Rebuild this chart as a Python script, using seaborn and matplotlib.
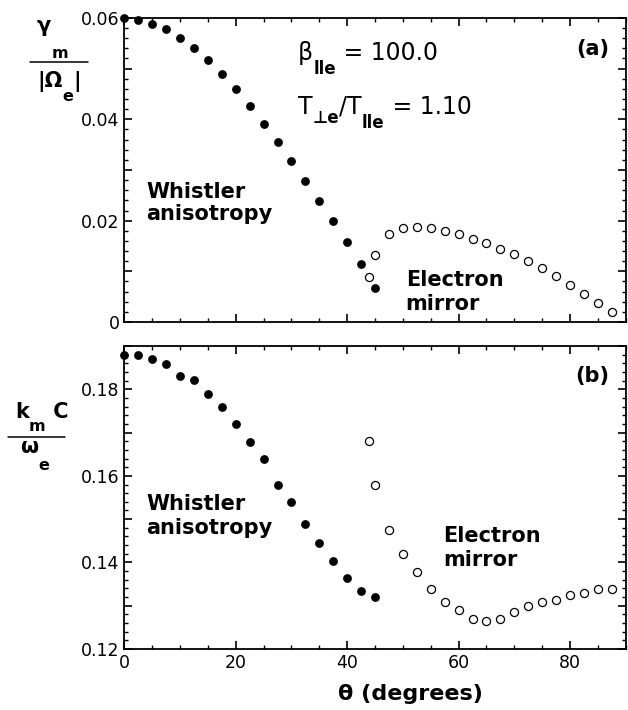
import matplotlib
matplotlib.use('Agg')
import matplotlib.pyplot as plt
from matplotlib.ticker import MultipleLocator, FuncFormatter
import seaborn as sns

# --- data ---
theta_fill = [0, 2.5, 5, 7.5, 10, 12.5, 15, 17.5, 20, 22.5, 25, 27.5, 30, 32.5,
              35, 37.5, 40, 42.5, 45]
theta_open = [44, 45, 47.5, 50, 52.5, 55, 57.5, 60, 62.5, 65, 67.5, 70, 72.5,
              75, 77.5, 80, 82.5, 85, 87.5]

# (a) growth rate gamma_m / |Omega_e|
gamma_fill = [0.0600, 0.0595, 0.0588, 0.0578, 0.0561, 0.0541, 0.0517, 0.0490,
              0.0459, 0.0427, 0.0391, 0.0356, 0.0318, 0.0278, 0.0239, 0.0199,
              0.0157, 0.0114, 0.0067]
gamma_open = [0.0088, 0.0132, 0.0174, 0.0186, 0.0188, 0.0186, 0.0180, 0.0173,
              0.0164, 0.0155, 0.0145, 0.0134, 0.0121, 0.0106, 0.0091, 0.0073,
              0.0056, 0.0037, 0.0019]

# (b) wavenumber k_m c / omega_e
k_fill = [0.1879, 0.1879, 0.1869, 0.1859, 0.1830, 0.1821, 0.1789, 0.1759,
          0.1720, 0.1679, 0.1640, 0.1578, 0.1539, 0.1489, 0.1444, 0.1404,
          0.1364, 0.1334, 0.1319]
k_open = [0.1680, 0.1579, 0.1474, 0.1419, 0.1379, 0.1339, 0.1309, 0.1289,
          0.1269, 0.1265, 0.1269, 0.1285, 0.1299, 0.1309, 0.1314, 0.1324,
          0.1330, 0.1339, 0.1339]

sns.set_theme(style='ticks')
plt.rcParams['font.family'] = ['DejaVu Sans']
plt.rcParams.update({
    'text.color': 'black',
    'axes.labelcolor': 'black',
    'axes.linewidth': 1.3,
    'axes.edgecolor': 'black',
    'xtick.direction': 'in', 'ytick.direction': 'in',
    'xtick.top': True, 'ytick.right': True,
    'xtick.major.size': 5.5, 'ytick.major.size': 5.5,
    'xtick.minor.size': 3, 'ytick.minor.size': 3,
    'xtick.major.width': 1.2, 'ytick.major.width': 1.2,
    'xtick.minor.width': 1.0, 'ytick.minor.width': 1.0,
    'xtick.labelsize': 12.5, 'ytick.labelsize': 12.5,
    'xtick.color': 'black', 'ytick.color': 'black',
})


def chain(ax, x, y, pieces, transform):
    # lay text pieces left to right, each with its own size and baseline shift
    s, size, weight, _ = pieces[0]
    prev = ax.text(x, y, s, fontsize=size, fontweight=weight, transform=transform,
                   ha='left', va='baseline')
    for s, size, weight, dy in pieces[1:]:
        prev = ax.annotate(s, xy=(1, y), xycoords=(prev, transform),
                           xytext=(0, dy), textcoords='offset points',
                           fontsize=size, fontweight=weight, ha='left', va='baseline')
    return prev


def tick_fmt(step, zero_label=None):
    def f(v, pos):
        n = v / step
        if abs(n - round(n)) > 1e-6:
            return ''
        if abs(v) < 1e-9 and zero_label is not None:
            return zero_label
        return f'{v:.2f}'
    return FuncFormatter(f)


fig = plt.figure(figsize=(6.28, 7.10), dpi=100)
ax1 = fig.add_axes([0.198, 0.5465, 0.7984, 0.4282])
ax2 = fig.add_axes([0.198, 0.0859, 0.7984, 0.4268])

for ax, yf, yo in [(ax1, gamma_fill, gamma_open), (ax2, k_fill, k_open)]:
    sns.scatterplot(x=theta_open, y=yo, ax=ax, s=34, color='white',
                    edgecolor='black', linewidth=0.9, zorder=3, clip_on=False)
    sns.scatterplot(x=theta_fill, y=yf, ax=ax, s=40, color='black',
                    edgecolor='black', linewidth=0, zorder=4, clip_on=False)
    ax.set_xlim(0, 90)
    ax.xaxis.set_major_locator(MultipleLocator(20))
    ax.xaxis.set_minor_locator(MultipleLocator(5))
    ax.yaxis.set_major_locator(MultipleLocator(0.01))
    ax.yaxis.set_minor_locator(MultipleLocator(0.002))
    ax.tick_params(which='both', top=True, right=True)
    ax.set_xlabel('')
    ax.set_ylabel('')

# panel (a)
ax1.set_ylim(0, 0.06)
ax1.yaxis.set_major_formatter(tick_fmt(0.02, zero_label='0'))
ax1.tick_params(labelbottom=False)
ax1.text(3.9, 0.0245, 'Whistler', fontsize=15, fontweight='bold', va='baseline')
ax1.text(3.9, 0.0201, 'anisotropy', fontsize=15, fontweight='bold', va='baseline')
ax1.text(50.5, 0.0071, 'Electron', fontsize=15, fontweight='bold', va='baseline')
ax1.text(50.5, 0.0024, 'mirror', fontsize=15, fontweight='bold', va='baseline')
ax1.text(87.0, 0.0527, '(a)', fontsize=15, fontweight='bold', ha='right', va='baseline')
chain(ax1, 31.2, 0.0517, [('β', 17, 'normal', 0), ('lle', 12, 'bold', -10),
                          (' = 100.0', 17, 'normal', 0)], ax1.transData)
chain(ax1, 31.2, 0.0411, [('T', 17, 'normal', 0), ('⊥e', 12, 'bold', -7),
                          ('/T', 17, 'normal', 0), ('lle', 12, 'bold', -10),
                          (' = 1.10', 17, 'normal', 0)], ax1.transData)

# y label of (a) as a fraction
chain(ax1, -0.174, 0.954, [('γ', 15, 'bold', 0), ('m', 11.5, 'bold', -19)], ax1.transAxes)
ax1.plot([-0.188, -0.072], [0.855, 0.855], transform=ax1.transAxes, clip_on=False,
         color='black', lw=1.1)
chain(ax1, -0.174, 0.773, [('|Ω', 15, 'bold', 0), ('e', 11.5, 'bold', -10),
                           ('|', 15, 'bold', 0)], ax1.transAxes)

# panel (b)
ax2.set_ylim(0.12, 0.19)
ax2.yaxis.set_major_formatter(tick_fmt(0.02))
ax2.xaxis.set_major_formatter(FuncFormatter(lambda v, p: f'{v:.0f}'))
ax2.text(3.9, 0.1521, 'Whistler', fontsize=15, fontweight='bold', va='baseline')
ax2.text(3.9, 0.1466, 'anisotropy', fontsize=15, fontweight='bold', va='baseline')
ax2.text(57.3, 0.1448, 'Electron', fontsize=15, fontweight='bold', va='baseline')
ax2.text(57.3, 0.1392, 'mirror', fontsize=15, fontweight='bold', va='baseline')
ax2.text(87.0, 0.1817, '(b)', fontsize=15, fontweight='bold', ha='right', va='baseline')

chain(ax2, -0.218, 0.762, [('k', 15, 'bold', 0), ('m', 11.5, 'bold', -9),
                           (' C', 15, 'bold', 0)], ax2.transAxes)
ax2.plot([-0.232, -0.118], [0.700, 0.700], transform=ax2.transAxes, clip_on=False,
         color='black', lw=1.1)
chain(ax2, -0.208, 0.647, [('ω', 15, 'bold', 0), ('e', 11.5, 'bold', -12)], ax2.transAxes)

ax2.set_xlabel('θ (degrees)', fontsize=16, fontweight='bold')
ax2.xaxis.label.set_va('baseline')
ax2.xaxis.set_label_coords(0.57, -0.168)

fig.savefig('out.png', dpi=100)
